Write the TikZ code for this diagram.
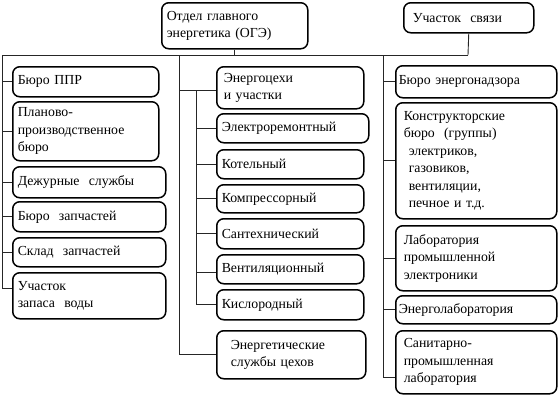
\documentclass[tikz,border=0pt]{standalone}
\usepackage{fontspec}
\setmainfont{Liberation Serif}
\begin{document}
\begin{tikzpicture}[x=1pt,y=-1pt,
  box/.style={draw=black, line width=1.5pt, rounded corners=7pt, anchor=north west,
    align=left, inner xsep=5pt, inner ysep=0pt,
    font=\fontsize{13.8}{17.5}\selectfont},
  link/.style={draw=black!85, line width=0.9pt}]
\useasboundingbox (0,0) rectangle (558,397);

% top
\node[box, text width=136pt, minimum height=46pt] (oge) at (161,2) {Отдел главного\\энергетика (ОГЭ)};
\node[box, text width=112pt, minimum height=30pt, inner xsep=9pt] (svyaz) at (403,2) {Участок~ связи};

% left column
\node[box, text width=136pt, minimum height=30pt] (ppr) at (12,66) {Бюро ППР};
\node[box, text width=136pt, minimum height=59pt] (plan) at (12,101) {Планово-\\производственное\\бюро};
\node[box, text width=143pt, minimum height=31pt] (dezh) at (12,166) {Дежурные~ службы};
\node[box, text width=143pt, minimum height=30pt] (zapch) at (12,201) {Бюро~ запчастей};
\node[box, text width=143pt, minimum height=29pt] (sklad) at (12,237) {Склад~ запчастей};
\node[box, text width=143pt, minimum height=46pt] (voda) at (12,272) {Участок\\запаса~ воды};

% middle column
\node[box, text width=133pt, minimum height=42pt, inner xsep=7pt] (cekhi) at (216,66) {Энергоцехи\\и участки};
\node[box, text width=142pt, minimum height=29pt] (elrem) at (216,113) {Электроремонтный};
\node[box, text width=137pt, minimum height=29pt] (kotel) at (216,149) {Котельный};
\node[box, text width=137pt, minimum height=28pt] (kompr) at (216,184) {Компрессорный};
\node[box, text width=137pt, minimum height=30pt] (santeh) at (216,218) {Сантехнический};
\node[box, text width=137pt, minimum height=29pt] (vent) at (216,254) {Вентиляционный};
\node[box, text width=137pt, minimum height=30pt] (kislor) at (216,289) {Кислородный};
\node[box, text width=121pt, minimum height=48pt, inner xsep=14pt] (sluzhby) at (216,330) {Энергетические\\службы цехов};

% right column
\node[box, text width=155pt, minimum height=32pt, inner xsep=3pt] (nadzor) at (395,65) {Бюро энергонадзора};
\node[box, text width=145pt, minimum height=116pt, inner xsep=8pt] (konstr) at (395,102) {Конструкторские\\бюро~ (группы)\\\hspace*{5pt}электриков,\\\hspace*{5pt}газовиков,\\\hspace*{5pt}вентиляции,\\\hspace*{5pt}печное и т.д.};
\node[box, text width=145pt, minimum height=65pt, inner xsep=8pt] (lab) at (395,225) {Лаборатория\\промышленной\\электроники};
\node[box, text width=155pt, minimum height=28pt, inner xsep=3pt] (energolab) at (395,295) {Энерголаборатория};
\node[box, text width=145pt, minimum height=63pt, inner xsep=8pt] (sanit) at (395,330) {Санитарно-\\промышленная\\лаборатория};

% bus
\coordinate (busL) at (2,55);
\coordinate (busR) at (468,55);
\coordinate (m0) at (179,55);
\coordinate (m1) at (196,55);
\coordinate (r0) at (383,55);
\draw[link] (oge.south) -- (oge.south |- busL);
\draw[link] (svyaz.south) -- (busR);
\draw[link] (busL) -- (busR);

% left links
\draw[link] (busL) |- ([yshift=7pt]voda.west);
\foreach \n in {ppr,plan,dezh,zapch,sklad}
  \draw[link] (\n.west -| busL) -- (\n.west);

% middle links
\draw[link] (m0) |- (sluzhby.west);
\draw[link] ([yshift=-3pt]cekhi.west -| m0) -- ([yshift=-3pt]cekhi.west);
\draw[link] ([yshift=-3pt]cekhi.west -| m1) |- (kislor.west);
\foreach \n in {elrem,kotel,kompr,santeh}
  \draw[link] (\n.west -| m1) -- (\n.west);
\draw[link] ([yshift=-3pt]vent.west -| m1) -- ([yshift=-3pt]vent.west);

% right links
\draw[link] (r0) |- ([yshift=-15.5pt]sanit.west);
\foreach \n in {nadzor,konstr,lab,energolab}
  \draw[link] (\n.west -| r0) -- (\n.west);
\end{tikzpicture}
\end{document}
